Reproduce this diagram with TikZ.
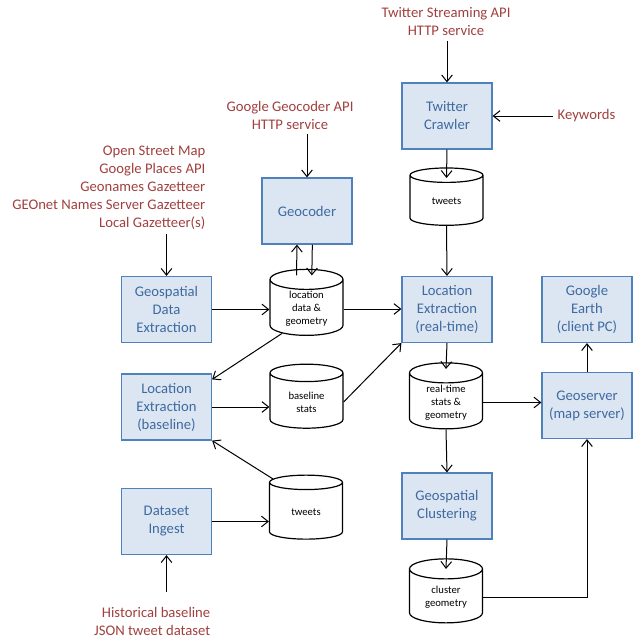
\documentclass[tikz,border=0pt]{standalone}
\usepackage{fontspec}
\setmainfont{Carlito}
\usetikzlibrary{shapes.geometric,arrows.meta}
\definecolor{boxfill}{HTML}{DCE6F2}
\definecolor{boxline}{HTML}{4F81BD}
\definecolor{boxtext}{HTML}{3E6AA0}
\definecolor{srcred}{HTML}{A0403E}
\tikzset{
  proc/.style={draw=boxline, line width=0.9pt, fill=boxfill, text=boxtext,
    minimum width=67.5pt, minimum height=49.5pt, align=center,
    font=\fontsize{11}{13.5}\selectfont},
  store/.style={cylinder, shape border rotate=90, aspect=0.45, draw,
    line width=0.9pt, minimum width=54.75pt, minimum height=48pt,
    align=center, inner sep=1pt, font=\fontsize{8}{9.8}\selectfont},
  src/.style={text=srcred, align=center, font=\fontsize{11}{13.5}\selectfont},
  arr/.style={-{Straight Barb[length=5pt,width=8pt]}, line width=0.75pt},
}
\begin{document}
\begin{tikzpicture}[x=0.75pt,y=-0.75pt]
  \useasboundingbox (0,0) rectangle (636,637);
  % sources
  \node[src] (tsapi) at (446,22) {Twitter Streaming API\\HTTP service};
  \node[src, anchor=west] (keywords) at (553,116) {Keywords};
  \node[src] (ggapi) at (290,115) {Google Geocoder API\\HTTP service};
  \node[src, align=right, anchor=east] (gazet) at (210,188) {Open Street Map\\Google Places API\\Geonames Gazetteer\\GEOnet Names Server Gazetteer\\Local Gazetteer(s)};
  \node[src, align=right, anchor=east] (hist) at (215,621) {Historical baseline\\JSON tweet dataset};
  % processes
  \node[proc] (crawler) at (447,116) {Twitter\\Crawler};
  \node[proc] (geocoder) at (307,211) {Geocoder};
  \node[proc] (gde) at (166.5,309.5) {Geospatial\\Data\\Extraction};
  \node[proc] (leb) at (166.5,407) {Location\\Extraction\\(baseline)};
  \node[proc] (ler) at (447,309.5) {Location\\Extraction\\(real-time)};
  \node[proc] (gearth) at (587,309.5) {Google\\Earth\\(client PC)};
  \node[proc] (geoserver) at (587,405.5) {Geoserver\\(map server)};
  \node[proc] (cluster) at (447,506) {Geospatial\\Clustering};
  \node[proc] (ingest) at (166.5,521.5) {Dataset\\Ingest};
  % stores
  \node[store, minimum height=43pt] (tweetsA) at (446.5,201.5) {tweets};
  \node[store] (locdata) at (306.5,309) {location\\data \&\\geometry};
  \node[store] (basestats) at (306.5,402) {baseline\\stats};
  \node[store, minimum height=43pt] (rtstats) at (446,402.5) {real-time\\stats \&\\geometry};
  \node[store] (clustgeo) at (446,597.5) {cluster\\geometry};
  \node[store] (tweetsB) at (306,512) {tweets};
  % connectors
  \draw[arr] (crawler.north |- tsapi.south) -- (crawler.north);
  \draw[arr] (keywords.west) -- (crawler.east);
  \draw[arr] (geocoder.north |- ggapi.south) -- (geocoder.north);
  \draw[arr] (gde.north |- gazet.south) -- (gde.north);
  \draw[arr] ([yshift=7.5pt]hist.north -| ingest.south) -- (ingest.south);
  \draw[arr] (crawler.south) -- ([yshift=-8pt]tweetsA.north);
  \draw[arr] (tweetsA.south) -- (ler.north);
  \draw[arr] ([xshift=-7.5pt,yshift=-5pt]locdata.north) -- ([xshift=-7.5pt]geocoder.south);
  \draw[arr] ([xshift=4pt]geocoder.south) -- ([xshift=4pt,yshift=-5pt]locdata.north);
  \draw[arr] (gde.east) -- (gde.east -| locdata.west);
  \draw[arr] (locdata.east) -- (locdata.east -| ler.west);
  \draw[arr] (locdata.south west) -- ([yshift=-4.5pt]leb.north east);
  \draw[arr] (leb.east) -- (leb.east -| basestats.west);
  \draw[arr] (basestats.east) -- (ler.south west);
  \draw[arr] (tweetsB.north west) -- (leb.south east);
  \draw[arr] (ingest.east) -- (ingest.east -| tweetsB.west);
  \draw[arr] (ler.south) -- ([yshift=-5pt]rtstats.north);
  \draw[arr] (rtstats.east) -- (rtstats.east -| geoserver.west);
  \draw[arr] (rtstats.south) -- (cluster.north);
  \draw[arr] (cluster.south) -- ([yshift=-8pt]clustgeo.north);
  \draw[arr] (geoserver.north) -- (gearth.south);
  \draw[arr] (clustgeo.east) -| (geoserver.south);
\end{tikzpicture}
\end{document}
